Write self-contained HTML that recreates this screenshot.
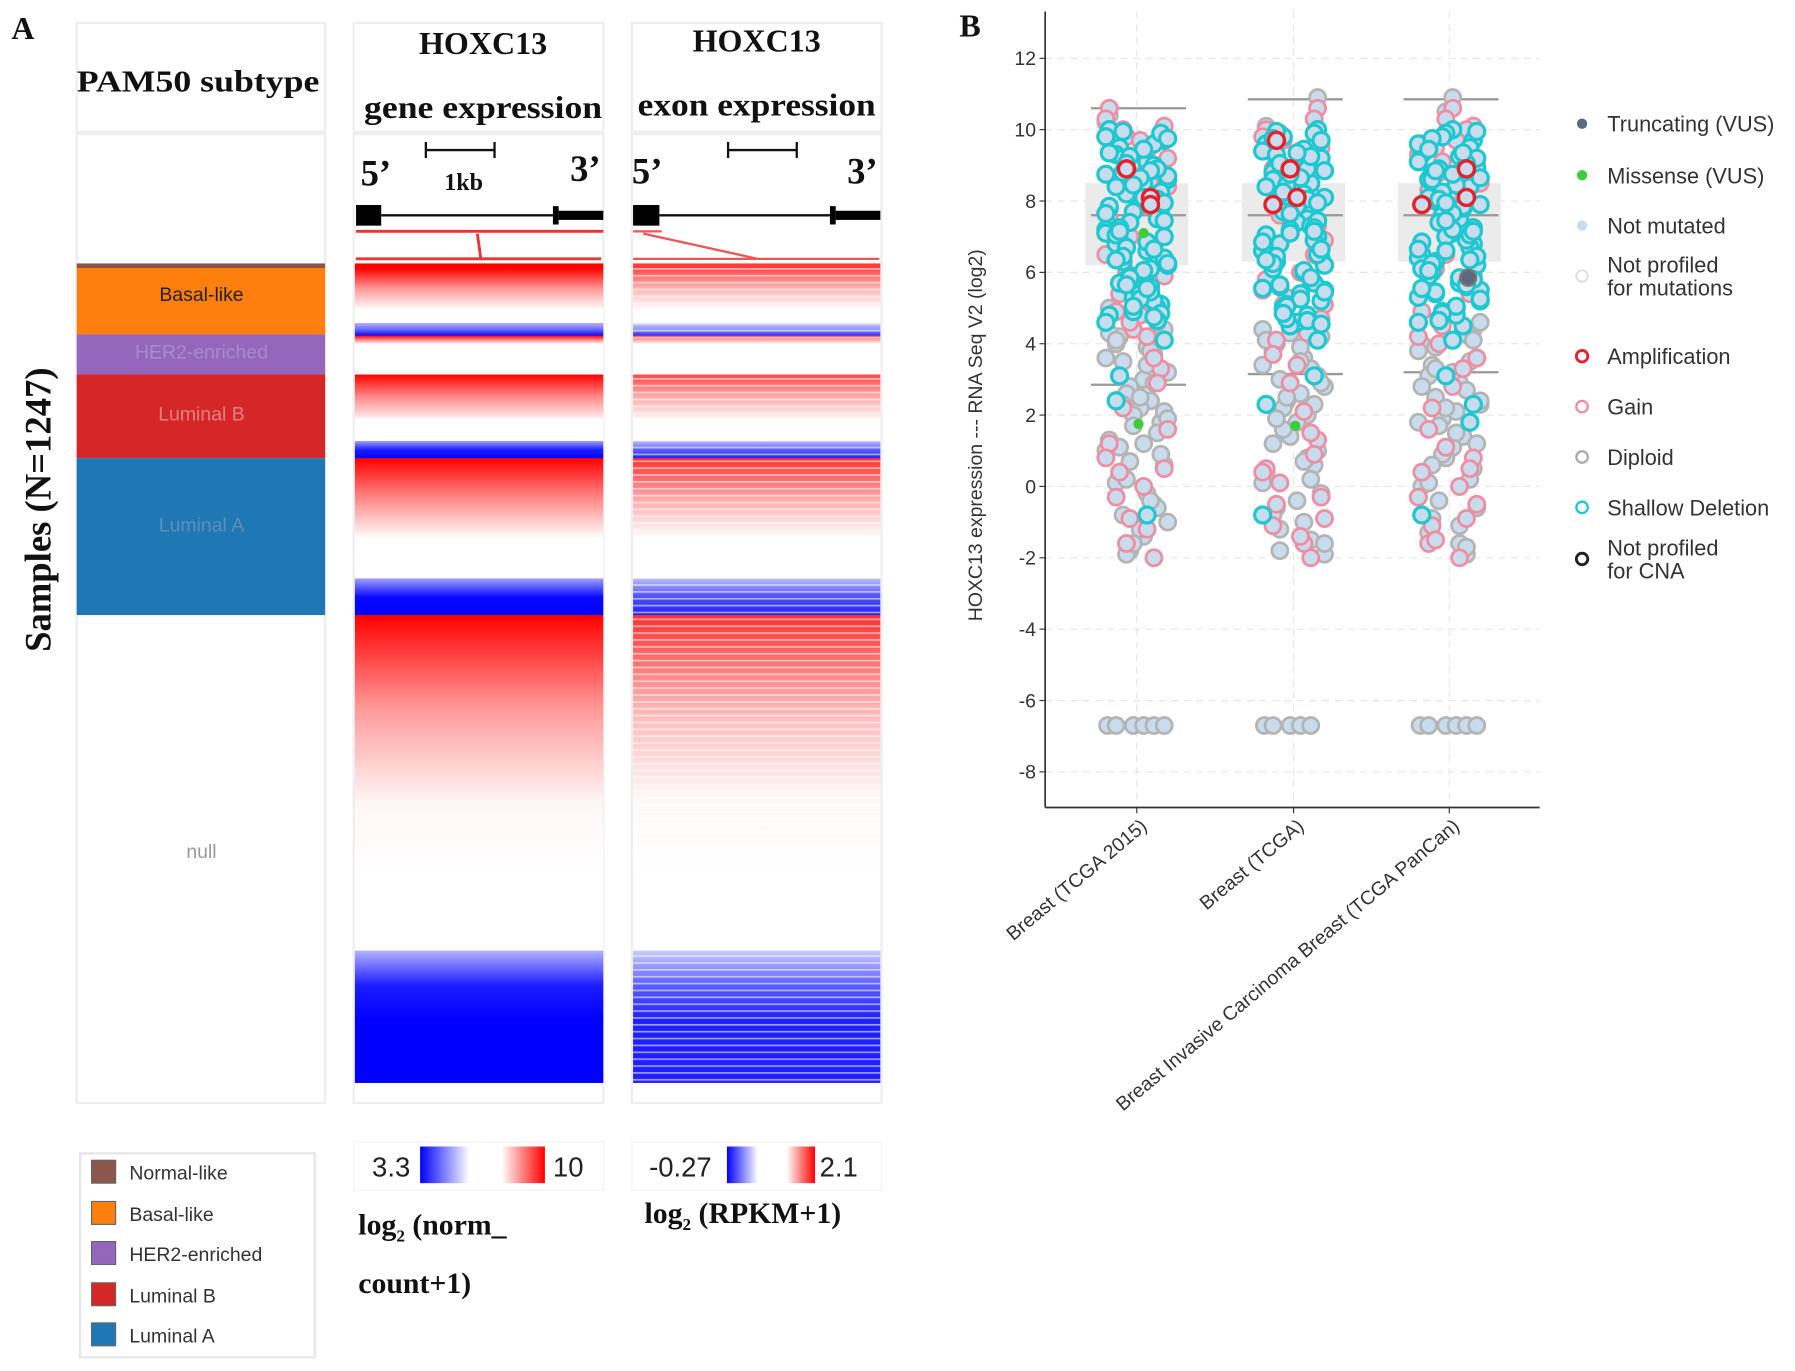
<!DOCTYPE html>
<html><head><meta charset="utf-8"><style>
html,body{margin:0;padding:0;background:#fff;}
svg{display:block;}
.serif{font-family:"Liberation Serif",serif;font-weight:bold;fill:#111;}
.sans{font-family:"Liberation Sans",sans-serif;}
</style></head><body>
<svg id="fig" width="1795" height="1371" viewBox="0 0 1568 1197" preserveAspectRatio="none" xmlns="http://www.w3.org/2000/svg">
<defs>
<linearGradient id="cbBlue" x1="0" x2="1" y1="0" y2="0"><stop offset="0" stop-color="#0000ff"/><stop offset="1" stop-color="#fff"/></linearGradient>
<linearGradient id="cbRed" x1="0" x2="1" y1="0" y2="0"><stop offset="0" stop-color="#fff"/><stop offset="1" stop-color="#ff0000"/></linearGradient>
<pattern id="stripes" width="10" height="6" patternUnits="userSpaceOnUse"><rect x="0" y="0" width="10" height="1.5" fill="#fff" opacity="0.55"/></pattern>
</defs>
<text class="serif" x="10" y="34" font-size="28">A</text>
<g>
<rect x="67" y="20" width="217" height="95" fill="#fff" stroke="#eee" stroke-width="2"/>
<rect x="67" y="117" width="217" height="846" fill="#fff" stroke="#eee" stroke-width="2"/>
<text class="serif" x="173" y="80" font-size="27" text-anchor="middle" textLength="212" lengthAdjust="spacingAndGlyphs">PAM50 subtype</text>
<rect x="67" y="230" width="217" height="4" fill="#8c564b"/>
<rect x="67" y="234" width="217" height="58" fill="#ff7f0e"/>
<rect x="67" y="292" width="217" height="35" fill="#9467bd"/>
<rect x="67" y="327" width="217" height="73" fill="#d62728"/>
<rect x="67" y="400" width="217" height="137" fill="#1f77b4"/>
<g class="sans" font-size="17" text-anchor="middle">
<text x="176" y="263" fill="#222">Basal-like</text>
<text x="176" y="313" fill="#a98bc9">HER2-enriched</text>
<text x="176" y="367" fill="#e88080">Luminal B</text>
<text x="176" y="464" fill="#5f8fb8">Luminal A</text>
<text x="176" y="749" fill="#999">null</text>
</g>
</g>
<text class="serif" transform="translate(44,445) rotate(-90)" font-size="32" text-anchor="middle">Samples (N=1247)</text>

<g>
<rect x="309" y="20" width="218" height="95" fill="#fff" stroke="#eee" stroke-width="2"/>
<rect x="309" y="117" width="218" height="846" fill="#fff" stroke="#eee" stroke-width="2"/>
<text class="serif" x="422" y="47" font-size="28" text-anchor="middle">HOXC13</text>
<text class="serif" x="422" y="103" font-size="28" text-anchor="middle" textLength="208" lengthAdjust="spacingAndGlyphs">gene expression</text>
<text class="serif" x="315" y="162" font-size="32">5’</text>
<text class="serif" x="498" y="158" font-size="32">3’</text>
<path d="M372 131H432M372 124V138M432 124V138" stroke="#111" stroke-width="2" fill="none"/>
<text class="serif" x="405" y="166" font-size="21" text-anchor="middle">1kb</text>
<line x1="333" y1="188" x2="483" y2="188" stroke="#111" stroke-width="2"/>
<rect x="311" y="179" width="22" height="18" fill="#000"/>
<rect x="483" y="180" width="5" height="16" fill="#000"/><rect x="488" y="184" width="39" height="8" fill="#000"/>
<path d="M311 202H527M311 226H525M417 204L420 226" stroke="#e33" stroke-width="2.5" fill="none"/>
<g id="geneHeat"></g>
</g>
<g>
<rect x="552" y="20" width="218" height="95" fill="#fff" stroke="#eee" stroke-width="2"/>
<rect x="552" y="117" width="218" height="846" fill="#fff" stroke="#eee" stroke-width="2"/>
<text class="serif" x="661" y="45" font-size="28" text-anchor="middle">HOXC13</text>
<text class="serif" x="661" y="101" font-size="28" text-anchor="middle" textLength="208" lengthAdjust="spacingAndGlyphs">exon expression</text>
<text class="serif" x="552" y="160" font-size="32">5’</text>
<text class="serif" x="740" y="160" font-size="32">3’</text>
<path d="M636 131H696M636 124V138M696 124V138" stroke="#111" stroke-width="2" fill="none"/>
<line x1="576" y1="188" x2="725" y2="188" stroke="#111" stroke-width="2"/>
<rect x="553" y="179" width="23" height="18" fill="#000"/>
<rect x="725" y="180" width="5" height="16" fill="#000"/><rect x="730" y="184" width="39" height="8" fill="#000"/>
<path d="M553 202H578M553 226H768M562 204L662 226" stroke="#e55" stroke-width="2" fill="none"/>
<g id="exonHeat"></g>
</g>
<g>
<rect x="309" y="997" width="218" height="42" fill="#fff" stroke="#f3f3f3"/>
<text class="sans" x="325" y="1027" font-size="24" fill="#222">3.3</text>
<rect x="367" y="1001" width="43" height="32" fill="url(#cbBlue)"/>
<rect x="438" y="1001" width="38" height="32" fill="url(#cbRed)"/>
<text class="sans" x="483" y="1027" font-size="24" fill="#222">10</text>
<text class="serif" x="313" y="1078" font-size="26">log<tspan font-size="15" dy="6">2</tspan><tspan dy="-6"> (norm_</tspan></text>
<text class="serif" x="313" y="1129" font-size="26">count+1)</text>
</g>
<g>
<rect x="552" y="997" width="218" height="42" fill="#fff" stroke="#f3f3f3"/>
<text class="sans" x="567" y="1027" font-size="24" fill="#222">-0.27</text>
<rect x="635" y="1001" width="27" height="32" fill="url(#cbBlue)"/>
<rect x="687" y="1001" width="25" height="32" fill="url(#cbRed)"/>
<text class="sans" x="716" y="1027" font-size="24" fill="#222">2.1</text>
<text class="serif" x="563" y="1068" font-size="26">log<tspan font-size="15" dy="6">2</tspan><tspan dy="-6"> (RPKM+1)</tspan></text>
</g>
<g>
<rect x="70" y="1007" width="205" height="178" fill="#fff" stroke="#e6e6e6" stroke-width="2"/>
<g class="sans" font-size="17" fill="#333">
<rect x="80" y="1013" width="21" height="20" fill="#8c564b" stroke="#666"/><text x="113" y="1030">Normal-like</text>
<rect x="80" y="1049" width="21" height="20" fill="#ff7f0e" stroke="#666"/><text x="113" y="1066">Basal-like</text>
<rect x="80" y="1084" width="21" height="20" fill="#9467bd" stroke="#666"/><text x="113" y="1101">HER2-enriched</text>
<rect x="80" y="1120" width="21" height="20" fill="#d62728" stroke="#666"/><text x="113" y="1137">Luminal B</text>
<rect x="80" y="1155" width="21" height="20" fill="#1f77b4" stroke="#666"/><text x="113" y="1172">Luminal A</text>
</g>
</g>
<text class="serif" x="838" y="32" font-size="28">B</text>
<g id="chartB"></g>
<g class="sans" font-size="19" fill="#333">
<circle cx="1382" cy="108" r="4.5" fill="#5a6b80"/><text x="1404" y="115">Truncating (VUS)</text>
<circle cx="1382" cy="153" r="4.5" fill="#3ccc3c"/><text x="1404" y="160">Missense (VUS)</text>
<circle cx="1382" cy="197" r="4.5" fill="#c9dcee"/><text x="1404" y="204">Not mutated</text>
<circle cx="1382" cy="241" r="5" fill="none" stroke="#ddd" stroke-width="1.5"/><text x="1404" y="238">Not profiled</text><text x="1404" y="258">for mutations</text>
<circle cx="1382" cy="311" r="5" fill="none" stroke="#e8202a" stroke-width="2.5"/><text x="1404" y="318">Amplification</text>
<circle cx="1382" cy="355" r="5" fill="none" stroke="#f28ca0" stroke-width="2"/><text x="1404" y="362">Gain</text>
<circle cx="1382" cy="399" r="5" fill="none" stroke="#aaa" stroke-width="2"/><text x="1404" y="406">Diploid</text>
<circle cx="1382" cy="443" r="5" fill="none" stroke="#1ec8d0" stroke-width="2"/><text x="1404" y="450">Shallow Deletion</text>
<circle cx="1382" cy="488" r="5" fill="none" stroke="#222" stroke-width="2.5"/><text x="1404" y="485">Not profiled</text><text x="1404" y="505">for CNA</text>
</g>
</svg>
<script>
// ---------- Panel A heatmap data: sample-rank segments and expression values ----------
const geneSegStarts = [0, 4, 40, 52, 63, 70, 97, 135, 155, 170, 240, 275, 307, 470, 600, 660];
const geneSegEnds   = [4, 40, 52, 63, 70, 97, 135, 155, 170, 240, 275, 307, 470, 600, 660, 715];
const geneSegTop    = [9.8, 9.6, 6.6, 5.8, 9.8, 6.6, 9.6, 6.6, 5.6, 10.0, 6.6, 5.6, 10.0, 6.7, 5.8, 3.3];
const geneSegMid    = [9.8, 7.8, 6.6, 5.0, 8.0, 6.6, 8.0, 6.6, 4.2, 8.0, 6.6, 4.0, 7.8, 6.6, 4.2, 3.3];
const geneSegBottom = [9.8, 6.6, 6.6, 3.3, 6.6, 6.6, 6.8, 6.6, 3.3, 6.6, 6.6, 3.3, 6.7, 6.6, 3.3, 3.3];
// ---------- Panel B data ----------
const categories = ["Breast (TCGA 2015)", "Breast (TCGA)", "Breast Invasive Carcinoma Breast (TCGA PanCan)"];
const yTicks = [12, 10, 8, 6, 4, 2, 0, -2, -4, -6, -8];
const boxQ1 = [6.2, 6.3, 6.3];
const boxQ3 = [8.5, 8.5, 8.5];
const boxMedian = [7.6, 7.6, 7.6];
const whiskerHigh = [10.6, 10.85, 10.85];
const whiskerLow = [2.85, 3.15, 3.2];
const jitter = [-0.8,0.3,-0.2,0.7,-0.5,0.9,0.1,-0.9,0.5,-0.3,0.6,-0.6,0.2,-0.1,0.8,-0.4,0.4];
const grayVals = [
 [10.4,10.2,4.4,4.2,4.0,3.9,3.7,3.5,3.2,3.0,2.8,2.6,2.4,2.2,2.0,1.8,1.5,1.3,1.0,0.6,0.3,0.1,-0.2,-0.5,-0.8,-1.0,-1.4,-1.8,-1.9,3.8,2.5,1.7,0.9,-0.6,4.3,3.6,2.1,1.1,4.1,3.4,2.9,2.3,1.9,1.2,0.7,0.2,-0.4,-1.2,-1.6,3.3,4.6,5.0],
 [10.9,10.3,10.1,4.4,4.2,4.0,3.8,3.6,3.3,3.0,2.8,2.6,2.4,2.2,2.0,1.8,1.4,1.0,0.6,0.4,0.1,-0.2,-0.6,-0.8,-1.0,-1.5,-1.8,-1.9,3.9,2.5,1.6,0.8,-0.4,4.3,3.1,2.3,4.1,3.4,2.9,1.9,1.2,0.7,0.2,-1.2,-1.6,3.5,4.7,5.1],
 [10.9,10.5,4.4,4.2,4.0,3.8,3.6,3.4,3.1,2.9,2.7,2.5,2.3,2.1,1.9,1.7,1.4,1.1,0.8,0.5,0.2,0.0,-0.3,-0.6,-0.9,-1.3,-1.6,-1.9,3.9,2.4,1.5,0.9,-0.4,4.3,3.2,2.2,4.1,3.5,2.8,1.8,1.2,0.6,0.1,-1.1,-1.7,3.3,4.6,5.0]];
const pinkVals = [
 [10.6,10.3,10.1,9.9,9.6,9.4,9.0,8.7,8.4,7.9,7.0,6.0,5.2,4.8,4.4,3.3,2.9,1.2,0.8,0.5,0.4,-0.3,-1.2,-2.0,10.0,9.2,5.6,4.6,9.8,8.6,9.7,9.1,8.8,8.0,7.5,6.5,5.9,5.4,4.9,4.2,3.6,2.2,1.6,0.0,-0.9,-1.6],
 [10.6,10.3,10.0,9.8,9.5,9.2,8.9,8.6,8.2,7.6,6.9,6.0,5.3,4.9,4.3,3.4,2.9,1.3,0.9,0.5,0.4,-0.3,-0.5,-1.1,-1.6,-2.0,9.9,5.1,9.4,8.4,9.7,9.1,8.8,8.0,7.3,6.5,5.8,5.5,4.7,4.1,3.7,2.1,1.5,0.1,-0.9,-1.4],
 [10.6,10.3,10.1,9.9,9.6,9.3,9.0,8.7,8.3,7.8,7.0,6.1,5.3,4.8,4.5,4.0,3.3,2.8,1.1,0.8,0.5,0.4,-0.3,-0.5,-1.1,-1.6,-2.0,10.0,9.5,8.5,9.7,9.1,8.8,8.0,7.4,6.5,5.9,5.4,4.9,4.2,3.6,2.2,1.6,0.0,-0.9,-1.5]];
const cyanVals = [
 [10.0,9.8,9.7,9.5,9.3,9.1,9.0,8.8,8.6,8.5,8.3,8.2,8.0,7.9,7.7,7.6,7.5,7.3,7.2,7.0,6.9,6.8,6.6,6.5,6.3,6.2,6.0,5.9,5.8,5.6,5.5,5.3,5.1,5.0,4.8,4.6,4.1,3.1,2.4,-0.8,9.6,9.2,8.7,8.1,7.4,6.7,6.1,5.4,4.9,9.9,8.9,7.8,7.1,6.4,5.7,8.4,6.6,5.2,9.95,9.75,9.45,9.25,9.05,8.85,8.65,8.45,8.25,8.05,7.85,7.65,7.45,7.25,7.05,6.85,6.65,6.45,6.25,6.05,5.85,5.65,5.45,5.25,5.05,4.85,4.65,9.35,8.75,7.95,7.15,6.35,5.55,4.75],
 [10.0,9.9,9.6,9.4,9.2,9.0,8.8,8.7,8.5,8.3,8.1,8.0,7.8,7.7,7.5,7.4,7.2,7.0,6.9,6.7,6.6,6.4,6.3,6.1,6.0,5.8,5.6,5.5,5.3,5.1,5.0,4.8,4.6,4.5,4.1,3.1,2.3,-0.8,9.7,9.3,8.6,8.2,7.3,6.8,6.2,5.4,4.7,9.8,8.9,7.9,7.1,6.5,5.7,8.4,6.6,5.2,9.95,9.75,9.45,9.25,9.05,8.85,8.65,8.45,8.25,8.05,7.85,7.65,7.45,7.25,7.05,6.85,6.65,6.45,6.25,6.05,5.85,5.65,5.45,5.25,5.05,4.85,4.65,9.35,8.75,7.95,7.15,6.35,5.55,4.55],
 [10.0,9.9,9.7,9.5,9.3,9.1,8.9,8.8,8.6,8.4,8.2,8.0,7.9,7.7,7.6,7.4,7.3,7.1,7.0,6.8,6.7,6.5,6.4,6.2,6.0,5.9,5.7,5.6,5.4,5.2,5.0,4.9,4.7,4.5,4.1,3.1,2.3,1.8,-0.8,9.6,9.2,8.6,8.1,7.5,6.9,6.3,5.5,4.8,9.8,8.9,7.8,7.2,6.6,5.8,8.4,6.1,5.3,9.95,9.75,9.45,9.25,9.05,8.85,8.65,8.45,8.25,8.05,7.85,7.65,7.45,7.25,7.05,6.85,6.65,6.45,6.25,6.05,5.85,5.65,5.45,5.25,5.05,4.85,4.65,9.35,8.75,7.95,7.15,6.35,5.55,4.6]];
const floorVals = [[-6.7,-6.7,-6.7,-6.7,-6.7,-6.7],[-6.7,-6.7,-6.7,-6.7,-6.7],[-6.7,-6.7,-6.7,-6.7,-6.7,-6.7]];
const floorJitter = [-0.85,-0.6,-0.1,0.2,0.5,0.8];
const ampVals = [[8.9,8.1,7.9],[9.7,8.9,8.1,7.9],[8.9,8.1,7.9]];
const ampJitter = [[-0.3,0.4,0.4],[-0.5,-0.1,0.1,-0.6],[0.5,0.5,-0.8]];
const missenseVals = [[7.1,1.75],[1.7],[]];
const missenseJitter = [[0.2,0.05],[0.05],[]];
const truncVals = [[],[],[5.85]];
const truncJitter = [[],[],[0.55]];

const NS = "http://www.w3.org/2000/svg";
function mk(tag, attrs, parent){const e=document.createElementNS(NS,tag);for(const k in attrs)e.setAttribute(k,attrs[k]);parent.appendChild(e);return e;}

const heatTop = 230, heatBottom = 945, totalRank = 715;
function rankY(r){return heatTop + (heatBottom-heatTop)*r/totalRank;}
function colorFor(v){
  if(v>=6.6){const t=Math.min(1,(v-6.6)/3.0);const c=Math.round(255*(1-t));return `rgb(255,${c},${c})`;}
  const t=Math.min(1,(6.6-v)/2.7);const c=Math.round(255*(1-t));return `rgb(${c},${c},255)`;
}
function drawHeat(gid, x, w, striped, soften){
  const g=document.getElementById(gid);
  const defs=document.querySelector('defs');
  for(let i=0;i<geneSegStarts.length;i++){
    const id=gid+'g'+i;
    const lg=mk('linearGradient',{id:id,x1:0,x2:0,y1:0,y2:1},defs);
    const vs=[geneSegTop[i],geneSegMid[i],geneSegBottom[i]];
    vs.forEach((v,j)=>{let col=colorFor(soften?6.6+(v-6.6)*0.72:v);mk('stop',{offset:j/2,'stop-color':col},lg);});
    const y0=rankY(geneSegStarts[i]), y1=rankY(geneSegEnds[i]);
    const r=mk('rect',{x:x,y:y0,width:w,height:y1-y0+0.5,fill:`url(#${id})`},g);
    
    
    if(striped){mk('rect',{x:x,y:y0,width:w,height:y1-y0,fill:'url(#stripes)'},g);}
  }
}
drawHeat('geneHeat',310,217,false,false);
drawHeat('exonHeat',553,216,true,true);

const chart=document.getElementById('chartB');
const plotL=913, plotR=1345, plotT=10, plotB=705;
function yScale(v){return 424.7-31.15*v;}
const catX=[993,1130,1266];
function xScale(i){return catX[i];}
const jw=30;
yTicks.forEach(t=>{
  const y=yScale(t);
  const gl=mk('line',{x1:plotL,x2:plotR,y1:y,y2:y,stroke:'#e6e6e6','stroke-dasharray':'6,5','stroke-width':1},chart);
  
  
});
categories.forEach((c,i)=>{
  const x=xScale(i);
  mk('line',{x1:x,x2:x,y1:plotT,y2:plotB,stroke:'#e6e6e6','stroke-dasharray':'6,5'},chart);
});
categories.forEach((c,i)=>{
  const x=xScale(i);
  const b=mk('rect',{x:x-45,y:yScale(boxQ3[i]),width:90,height:yScale(boxQ1[i])-yScale(boxQ3[i]),fill:'#ebebeb'},chart);
  
  
  [whiskerHigh[i],whiskerLow[i],boxMedian[i]].forEach(v=>{
    mk('line',{x1:x-40,x2:x+43,y1:yScale(v),y2:yScale(v),stroke:'#999','stroke-width':2},chart);
  });
});
function pts(vals, jit, stroke, fill, sw, r, name){
  categories.forEach((c,i)=>{
    vals[i].forEach((v,k)=>{
      const j = jit ? jit[i][k] : jitter[(k*7+i*3)%jitter.length];
      const p=mk('circle',{cx:xScale(i)+j*jw,cy:yScale(v),r:r,fill:fill,stroke:stroke,'stroke-width':sw},chart);
      
      
    });
  });
}
pts(grayVals,null,'#b4b4b4','#c9dcee',2.4,7,'diploid-point');
pts(pinkVals,null,'#f28ca0','#c9dcee',2.4,7,'gain-point');
pts(floorVals,[floorJitter,floorJitter,floorJitter],'#b4b4b4','#c9dcee',2.4,7,'floor-point');
pts(cyanVals,null,'#1ec8d0','#c9dcee',2.8,7,'shallow-deletion-point');
pts(ampVals,ampJitter,'#e8202a','#c9dcee',3,7,'amplification-point');
pts(missenseVals,missenseJitter,'none','#3ccc3c',0,4.5,'missense-point');
pts(truncVals,truncJitter,'#777','#5a6b80',2,7,'truncating-point');
mk('line',{x1:plotL,x2:plotL,y1:plotT,y2:plotB,stroke:'#333','stroke-width':1.5},chart);
mk('line',{x1:plotL,x2:plotR,y1:plotB,y2:plotB,stroke:'#333','stroke-width':1.5},chart);
yTicks.forEach(t=>{
  const y=yScale(t);
  mk('line',{x1:plotL-5,x2:plotL,y1:y,y2:y,stroke:'#333'},chart);
  const tx=mk('text',{x:plotL-8,y:y+6,'text-anchor':'end','font-size':17,fill:'#333','font-family':'Liberation Sans, sans-serif'},chart);
  tx.textContent=t;
  
  
});
categories.forEach((c,i)=>{
  const x=xScale(i);
  mk('line',{x1:x,x2:x,y1:plotB,y2:plotB+5,stroke:'#333'},chart);
  const tx=mk('text',{transform:`translate(${x+10},${plotB+18}) rotate(-40)`,'text-anchor':'end','font-size':17,fill:'#333','font-family':'Liberation Sans, sans-serif'},chart);
  tx.textContent=c;
  
  
});
const yl=mk('text',{transform:'translate(858,380) rotate(-90)','text-anchor':'middle','font-size':17,fill:'#333','font-family':'Liberation Sans, sans-serif'},chart);
yl.textContent='HOXC13 expression --- RNA Seq V2 (log2)';


</script>
</body></html>
